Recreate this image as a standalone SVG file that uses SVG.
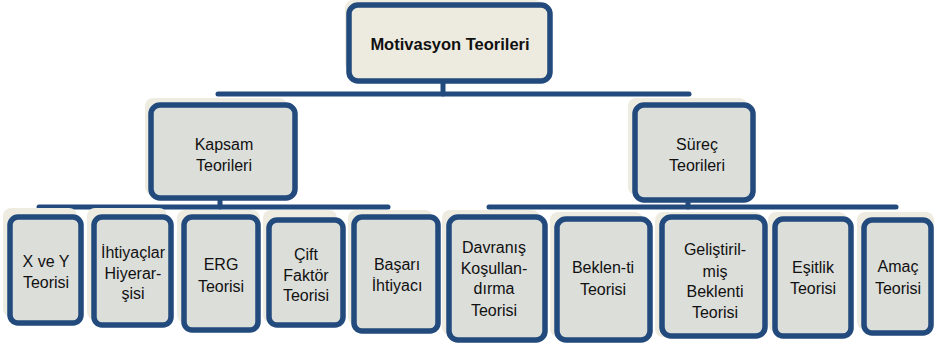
<svg xmlns="http://www.w3.org/2000/svg" width="934" height="344" viewBox="0 0 934 344">
<style>
.bg{fill:#EEECE1;}
.bx{fill:#DCDEDA;stroke:#224A7C;stroke-width:5.5;}
.top{fill:#EDEBE0;}
.ln{stroke:#224A7C;stroke-width:5;stroke-linecap:round;fill:none;}
text{font-family:"Liberation Sans",Arial,sans-serif;font-size:16px;fill:#111;text-anchor:middle;}
.t{font-weight:bold;font-size:16.5px;}
</style>
<rect width="934" height="344" fill="#fff"/>
<g id="connectors">
<line class="ln" x1="443" y1="82" x2="443" y2="94"/>
<line class="ln" x1="218" y1="94" x2="689" y2="94"/>
<line class="ln" x1="220" y1="198" x2="220" y2="207"/>
<line class="ln" x1="39" y1="207" x2="388" y2="207"/>
<line class="ln" x1="688" y1="199" x2="688" y2="207"/>
<line class="ln" x1="489" y1="207" x2="896" y2="207"/>
</g>
<g id="n-motivasyon">
<rect class="bg" x="345" y="0" width="198" height="72" rx="8"/>
<rect class="bx top" x="349" y="5" width="201" height="76" rx="9"/>
<text class="t" x="450" y="50">Motivasyon Teorileri</text>
</g>
<g id="n-kapsam">
<rect class="bg" x="145" y="98" width="142" height="97" rx="8"/>
<rect class="bx" x="151" y="105" width="144" height="93" rx="9"/>
<text x="224" y="150">Kapsam</text>
<text x="224" y="171">Teorileri</text>
</g>
<g id="n-surec">
<rect class="bg" x="628" y="98" width="119" height="97" rx="8"/>
<rect class="bx" x="635" y="105" width="118" height="95" rx="9"/>
<text x="697" y="150">Süreç</text>
<text x="697" y="171">Teorileri</text>
</g>
<g id="n-xvey">
<rect class="bg" x="3" y="208" width="74" height="109" rx="8"/>
<rect class="bx" x="10" y="217" width="71" height="106" rx="8"/>
<text x="46" y="267">X ve Y</text>
<text x="46" y="288">Teorisi</text>
</g>
<g id="n-ihtiyaclar">
<rect class="bg" x="87" y="208" width="80" height="112" rx="8"/>
<rect class="bx" x="94" y="217" width="77" height="108" rx="8"/>
<text x="133" y="258">İhtiyaçlar</text>
<text x="133" y="279">Hiyerar-</text>
<text x="133" y="299">şisi</text>
</g>
<g id="n-erg">
<rect class="bg" x="177" y="210" width="83" height="113" rx="8"/>
<rect class="bx" x="184" y="217" width="74" height="113" rx="8"/>
<text x="221" y="270">ERG</text>
<text x="221" y="292">Teorisi</text>
</g>
<g id="n-cift">
<rect class="bg" x="263" y="210" width="74" height="113" rx="8"/>
<rect class="bx" x="269" y="220" width="74" height="105" rx="8"/>
<text x="306" y="260">Çift</text>
<text x="306" y="281">Faktör</text>
<text x="306" y="301">Teorisi</text>
</g>
<g id="n-basari">
<rect class="bg" x="348" y="210" width="85" height="115" rx="8"/>
<rect class="bx" x="354" y="217" width="84" height="114" rx="8"/>
<text x="397" y="270">Başarı</text>
<text x="397" y="291">İhtiyacı</text>
</g>
<g id="n-davranis">
<rect class="bg" x="442" y="210" width="98" height="125" rx="8"/>
<rect class="bx" x="449" y="217" width="96" height="123" rx="9"/>
<text x="494" y="253">Davranış</text>
<text x="494" y="274">Koşullan-</text>
<text x="494" y="294">dırma</text>
<text x="494" y="316">Teorisi</text>
</g>
<g id="n-beklenti">
<rect class="bg" x="550" y="212" width="93" height="125" rx="8"/>
<rect class="bx" x="557" y="219" width="93" height="121" rx="9"/>
<text x="603" y="273">Beklen-ti</text>
<text x="603" y="295">Teorisi</text>
</g>
<g id="n-gelistirilmis">
<rect class="bg" x="655" y="212" width="108" height="125" rx="8"/>
<rect class="bx" x="662" y="217" width="103" height="119" rx="9"/>
<text x="715" y="255">Geliştiril-</text>
<text x="715" y="277">miş</text>
<text x="715" y="297">Beklenti</text>
<text x="715" y="318">Teorisi</text>
</g>
<g id="n-esitlik">
<rect class="bg" x="768" y="212" width="79" height="120" rx="8"/>
<rect class="bx" x="775" y="219" width="76" height="117" rx="8"/>
<text x="813" y="273">Eşitlik</text>
<text x="813" y="294">Teorisi</text>
</g>
<g id="n-amac">
<rect class="bg" x="857" y="212" width="77" height="118" rx="8"/>
<rect class="bx" x="864" y="220" width="67" height="113" rx="8"/>
<text x="898" y="272">Amaç</text>
<text x="898" y="294">Teorisi</text>
</g>
</svg>
